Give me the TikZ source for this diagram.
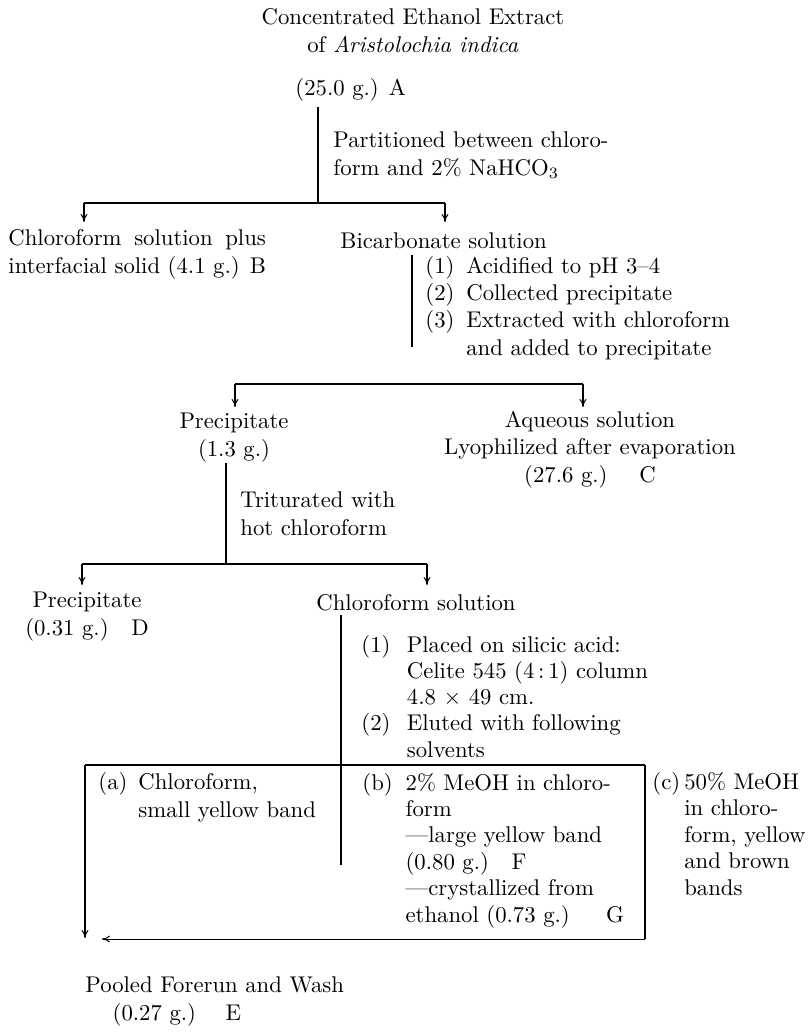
\documentclass[tikz,border=0pt]{standalone}
\usetikzlibrary{arrows.meta}
\newlength\blinew
\newcommand\hng[2]{\makebox[#1][l]{#2}}
\begin{document}
\begin{tikzpicture}[x=0.44pt,y=-0.44pt,
  txt/.style={inner sep=0pt, anchor=base west, align=left, font=\fontsize{10}{11.9}\selectfont},
  ctxt/.style={txt, anchor=base, align=center},
  ln/.style={line width=0.45pt},
  bar/.style={line width=0.7pt},
  arr/.style={line width=0.45pt,-{To[length=3.5pt,width=3pt]}}]
\useasboundingbox (0,0) rectangle (810,1032);
% nodes (positioned by the baseline of their last line)
\node[ctxt] (title) at (413,52) {Concentrated Ethanol Extract\\of \textit{Aristolochia indica}};
\node[txt] (A) at (295,95) {(25.0 g.) A};
\node[txt] (p1) at (333,175) {Partitioned between chloro-\\form and 2\% NaHCO$_3$};
\node[txt] (B) at (8,273) {\settowidth\blinew{interfacial solid (4.1 g.) B}\makebox[\blinew][s]{Chloroform solution plus}\\interfacial solid (4.1 g.) B};
\node[txt] (C) at (340,248) {Bicarbonate solution};
\node[txt] (c1) at (425,355) {\hng{18pt}{(1)}Acidified to pH 3--4\\\hng{18pt}{(2)}Collected precipitate\\\hng{18pt}{(3)}Extracted with chloroform\\\hspace*{18pt}and added to precipitate};
\node[ctxt] (P1) at (234,456) {Precipitate\\(1.3 g.)};
\node[ctxt] (Aq) at (590,482) {Aqueous solution\\Lyophilized after evaporation\\(27.6 g.)\hspace{14pt}C};
\node[txt] (t1) at (240,535) {Triturated with\\hot chloroform};
\node[ctxt] (D) at (87,635) {Precipitate\\(0.31 g.)\quad D};
\node[txt] (CS) at (316,610) {Chloroform solution};
\node[txt, font=\fontsize{10}{11.5}\selectfont] (col) at (361,757) {\hng{20pt}{(1)}Placed on silicic acid:\\\hspace*{20pt}Celite 545 (4\,:\,1) column\\\hspace*{20pt}4.8 $\times$ 49 cm.\\\hng{20pt}{(2)}Eluted with following\\\hspace*{20pt}solvents};
\node[txt] (a) at (98,817) {\hng{17.6pt}{(a)}Chloroform,\\\hspace*{17.6pt}small yellow band};
\node[txt, font=\fontsize{10}{11.6}\selectfont] (b) at (362,922) {\hng{19pt}{(b)}2\% MeOH in chloro-\\\hspace*{19pt}form\\\hspace*{19pt}---large yellow band\\\hspace*{19pt}(0.80 g.)\quad F\\\hspace*{19pt}---crystallized from\\\hspace*{19pt}ethanol (0.73 g.)\hspace{16pt}G};
\node[txt, font=\fontsize{10}{11.6}\selectfont] (c) at (652,895) {\hng{14pt}{(c)}50\%\ MeOH\\\hspace*{14pt}in chloro-\\\hspace*{14pt}form, yellow\\\hspace*{14pt}and brown\\\hspace*{14pt}bands};
\node[txt] (E) at (85,1020) {Pooled Forerun and Wash\\\hspace*{12pt}(0.27 g.)\hspace{13pt}E};
% junction coordinates
\coordinate (v1) at (318,203);
\coordinate (L1) at (84,203);   \coordinate (R1) at (445,203);
\coordinate (L1t) at (84,222);  \coordinate (R1t) at (445,222);
\coordinate (v2a) at (412,255); \coordinate (v2b) at (412,347);
\coordinate (L2) at (235,384);  \coordinate (R2) at (583,384);
\coordinate (L2t) at (235,407); \coordinate (R2t) at (583,407);
\coordinate (v3a) at (226,463); \coordinate (v3b) at (226,564);
\coordinate (L3) at (82,564);   \coordinate (R3) at (427,564);
\coordinate (L3t) at (82,585);  \coordinate (R3t) at (427,585);
\coordinate (v4a) at (341,615); \coordinate (v4b) at (341,865);
\coordinate (fTL) at (85,765);  \coordinate (fTR) at (645,765);
\coordinate (fBL) at (85,938);  \coordinate (fBR) at (645,939);
\coordinate (fBt) at (102,939);
% connectors
\draw[ln] (A.south -| v1) ++(0,6) -- (v1);
\draw[bar] (L1) -- (R1);
\draw[arr] (L1) -- (L1t);
\draw[arr] (R1) -- (R1t);
\draw[ln] (v2a) -- (v2b);
\draw[bar] (L2) -- (R2);
\draw[arr] (L2) -- (L2t);
\draw[arr] (R2) -- (R2t);
\draw[ln] (v3a) -- (v3b);
\draw[bar] (L3) -- (R3);
\draw[arr] (L3) -- (L3t);
\draw[arr] (R3) -- (R3t);
\draw[ln] (v4a) -- (v4b);
\draw[bar] (fTL) -- (fTR);
\draw[ln] (fTR) -- (fBR);
\draw[arr] (fTL) -- (fBL);
\draw[arr] (fBR) -- (fBt);
\end{tikzpicture}
\end{document}
